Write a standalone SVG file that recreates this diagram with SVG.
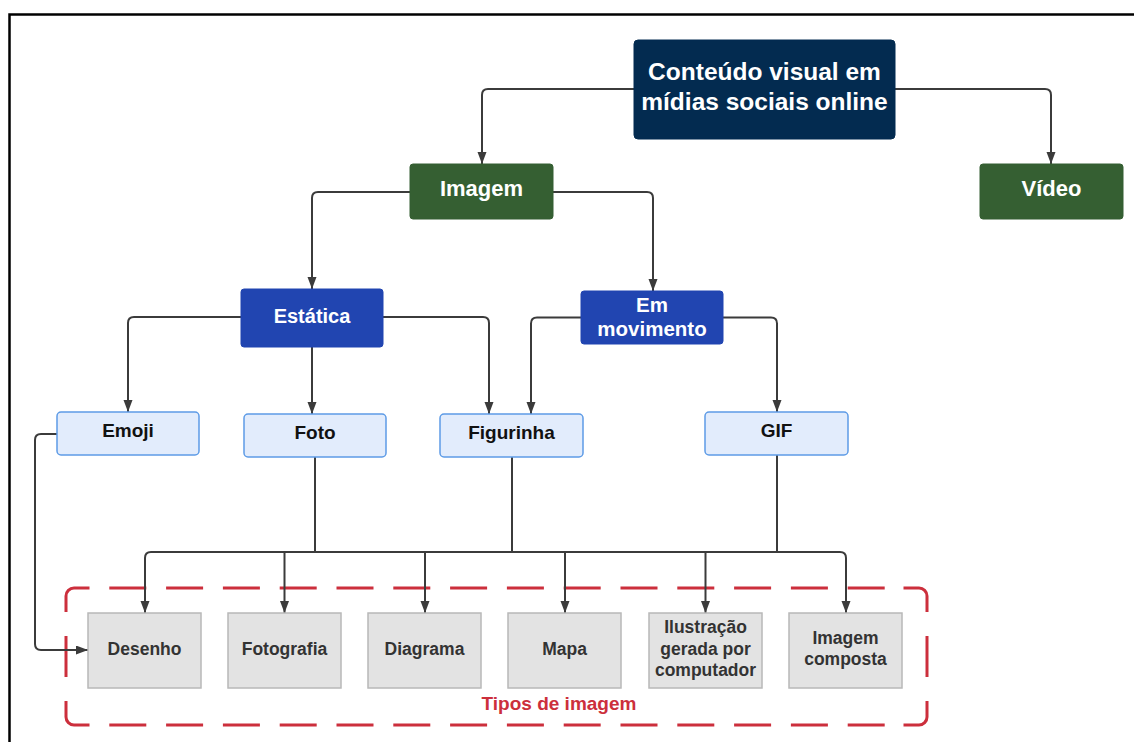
<svg xmlns="http://www.w3.org/2000/svg" width="1134" height="742" viewBox="0 0 1134 742">
  <style>
    .t { font-family: "Liberation Sans", Arial, sans-serif; font-weight: bold; text-anchor: middle; }
    .root { fill: #032b50; stroke: #032b50; }
    .green { fill: #355f32; stroke: #355f32; }
    .blue { fill: #2145b1; stroke: #2145b1; }
    .light { fill: #e2ecfc; stroke: #5d9be6; stroke-width: 1.5; }
    .gray { fill: #e3e3e3; stroke: #b8b8b8; stroke-width: 1.5; }
    .w { fill: #ffffff; }
    .k { fill: #111111; }
    .g { fill: #333333; }
    .edge { fill: none; stroke: #3b3b3b; stroke-width: 2; }
    .frame { fill: none; stroke: #cc2f3c; stroke-width: 3; stroke-linecap: butt; }
  </style>
  <defs>
    <marker id="arrow" markerUnits="userSpaceOnUse" markerWidth="12" markerHeight="10" refX="12" refY="4.5" orient="auto">
      <path d="M0,0 L12,4.5 L0,9 z" fill="#3b3b3b"/>
    </marker>
  </defs>

  <rect width="1134" height="742" fill="#ffffff"/>
  <!-- page border -->
  <path d="M9.5 742 V14.5 H1134" fill="none" stroke="#000000" stroke-width="2.5"/>

  <!-- group frame: Tipos de imagem -->
  <g id="tipos-de-imagem">
    <path class="frame" d="M66 612 V596 A8 8 0 0 1 74 588 H89.5"/>
    <path class="frame" d="M903.5 588 H919 A8 8 0 0 1 927 596 V612"/>
    <path class="frame" d="M927 701 V717 A8 8 0 0 1 919 725 H903.5"/>
    <path class="frame" d="M89.5 725 H74 A8 8 0 0 1 66 717 V701"/>
    <line class="frame" x1="89.5" y1="588" x2="903.5" y2="588" stroke-dasharray="37 19.8" stroke-dashoffset="37"/>
    <line class="frame" x1="89.5" y1="725" x2="903.5" y2="725" stroke-dasharray="37 19.8" stroke-dashoffset="37"/>
    <line class="frame" x1="66" y1="636" x2="66" y2="677"/>
    <line class="frame" x1="927" y1="636" x2="927" y2="677"/>
    <text class="t" x="559" y="710" font-size="19" fill="#cc2f3c">Tipos de imagem</text>
  </g>

  <!-- connectors -->
  <g id="connectors">
    <path class="edge" d="M634 89 H488 Q482 89 482 95 V164" marker-end="url(#arrow)"/>
    <path class="edge" d="M895 89 H1045 Q1051 89 1051 95 V164" marker-end="url(#arrow)"/>
    <path class="edge" d="M410 192 H318 Q312 192 312 198 V289" marker-end="url(#arrow)"/>
    <path class="edge" d="M553 192 H647 Q653 192 653 198 V291" marker-end="url(#arrow)"/>
    <path class="edge" d="M241 317 H134 Q128 317 128 323 V412" marker-end="url(#arrow)"/>
    <path class="edge" d="M312 347 V414" marker-end="url(#arrow)"/>
    <path class="edge" d="M383 317 H483 Q489 317 489 323 V414" marker-end="url(#arrow)"/>
    <path class="edge" d="M581 317.5 H537 Q531 317.5 531 323.5 V414" marker-end="url(#arrow)"/>
    <path class="edge" d="M723 317.5 H771 Q777 317.5 777 323.5 V412" marker-end="url(#arrow)"/>
    <path class="edge" d="M57 434 H41 Q35 434 35 440 V644 Q35 650 41 650 H88" marker-end="url(#arrow)"/>
    <!-- shared bus into the image types -->
    <path class="edge" d="M315 457 V552"/>
    <path class="edge" d="M512 457 V552"/>
    <path class="edge" d="M777 455 V552"/>
    <path class="edge" d="M145 613 V558 Q145 552 151 552 H840 Q846 552 846 558 V613" marker-end="url(#arrow)"/>
    <path class="edge" d="M145 558 V613" marker-end="url(#arrow)"/>
    <path class="edge" d="M284.5 552 V613" marker-end="url(#arrow)"/>
    <path class="edge" d="M425 552 V613" marker-end="url(#arrow)"/>
    <path class="edge" d="M565 552 V613" marker-end="url(#arrow)"/>
    <path class="edge" d="M705.5 552 V613" marker-end="url(#arrow)"/>
  </g>

  <!-- nodes -->
  <g id="conteudo-visual">
    <rect class="root" x="634" y="40" width="261" height="99" rx="4"/>
    <text class="t w" x="764.5" y="80" font-size="24.5">Conteúdo visual em</text>
    <text class="t w" x="764.5" y="110" font-size="24.5">mídias sociais online</text>
  </g>
  <g id="imagem">
    <rect class="green" x="410" y="164" width="143" height="55" rx="3"/>
    <text class="t w" x="481.5" y="196" font-size="22">Imagem</text>
  </g>
  <g id="video">
    <rect class="green" x="980" y="164" width="143" height="55" rx="3"/>
    <text class="t w" x="1051.5" y="196" font-size="22">Vídeo</text>
  </g>
  <g id="estatica">
    <rect class="blue" x="241" y="289" width="142" height="58" rx="3"/>
    <text class="t w" x="312" y="323" font-size="20">Estática</text>
  </g>
  <g id="em-movimento">
    <rect class="blue" x="581" y="291" width="142" height="53" rx="3"/>
    <text class="t w" x="652" y="312" font-size="20.5">Em</text>
    <text class="t w" x="652" y="336" font-size="20.5">movimento</text>
  </g>
  <g id="emoji">
    <rect class="light" x="57" y="412" width="142" height="43" rx="4"/>
    <text class="t k" x="128" y="437" font-size="19">Emoji</text>
  </g>
  <g id="foto">
    <rect class="light" x="244" y="414" width="142" height="43" rx="4"/>
    <text class="t k" x="315" y="439" font-size="19">Foto</text>
  </g>
  <g id="figurinha">
    <rect class="light" x="440" y="414" width="143" height="43" rx="4"/>
    <text class="t k" x="511.5" y="439" font-size="19">Figurinha</text>
  </g>
  <g id="gif">
    <rect class="light" x="705" y="412" width="143" height="43" rx="4"/>
    <text class="t k" x="776.5" y="437" font-size="19">GIF</text>
  </g>

  <g id="desenho">
    <rect class="gray" x="88" y="613" width="113" height="75"/>
    <text class="t g" x="144.5" y="655" font-size="17.5">Desenho</text>
  </g>
  <g id="fotografia">
    <rect class="gray" x="228" y="613" width="113" height="75"/>
    <text class="t g" x="284.5" y="655" font-size="17.5">Fotografia</text>
  </g>
  <g id="diagrama">
    <rect class="gray" x="368" y="613" width="113" height="75"/>
    <text class="t g" x="424.5" y="655" font-size="17.5">Diagrama</text>
  </g>
  <g id="mapa">
    <rect class="gray" x="508" y="613" width="113" height="75"/>
    <text class="t g" x="564.5" y="655" font-size="17.5">Mapa</text>
  </g>
  <g id="ilustracao">
    <rect class="gray" x="649" y="613" width="113" height="75"/>
    <text class="t g" x="705.5" y="633" font-size="17.5">Ilustração</text>
    <text class="t g" x="705.5" y="654.5" font-size="17.5">gerada por</text>
    <text class="t g" x="705.5" y="676" font-size="17.5">computador</text>
  </g>
  <g id="imagem-composta">
    <rect class="gray" x="789" y="613" width="113" height="75"/>
    <text class="t g" x="845.5" y="643.5" font-size="17.5">Imagem</text>
    <text class="t g" x="845.5" y="664.5" font-size="17.5">composta</text>
  </g>
</svg>
